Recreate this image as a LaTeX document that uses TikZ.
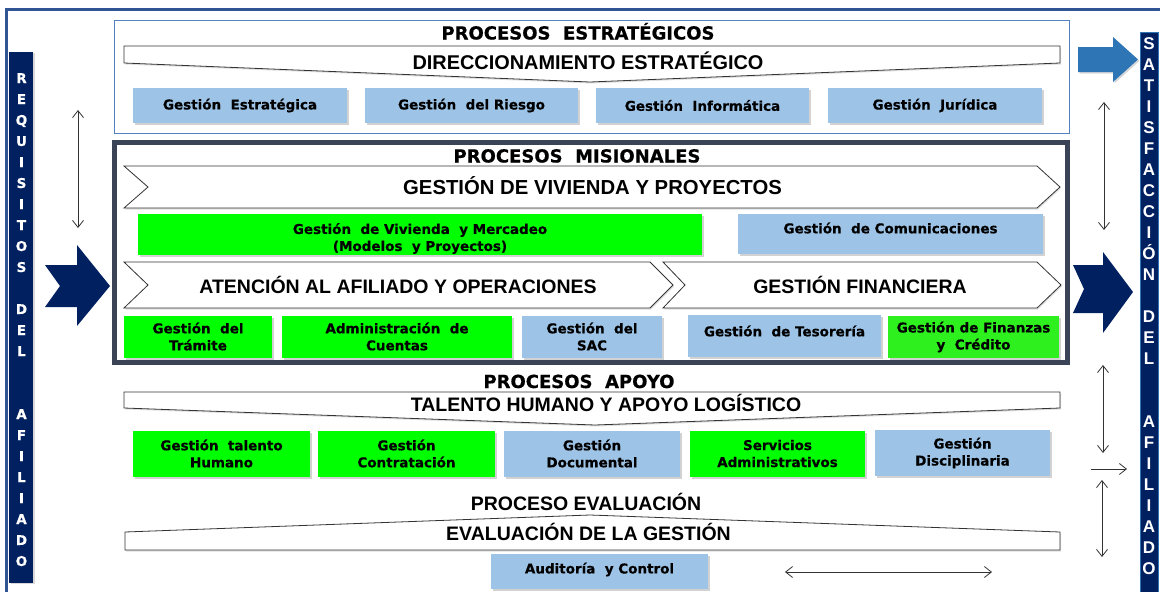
\documentclass[tikz,border=0pt]{standalone}
\usepackage{fontspec}
\setmainfont{DejaVu Sans}[BoldFeatures={FakeBold=0.5}]
\newfontfamily\lib{Liberation Sans}
\usetikzlibrary{arrows.meta,shadows}
\definecolor{lblue}{RGB}{157,195,230}
\definecolor{lgreen}{RGB}{0,255,0}
\definecolor{fgreen}{RGB}{45,240,30}
\definecolor{navy}{RGB}{0,32,96}
\definecolor{midblue}{RGB}{46,117,182}
\definecolor{frameblue}{RGB}{47,85,151}
\definecolor{slate}{RGB}{59,68,86}
\definecolor{stratblue}{RGB}{84,130,190}
\tikzset{
  box/.style={fill=lblue, inner sep=0pt, align=center,
    font=\fontsize{13.5}{17}\selectfont\bfseries,
    drop shadow={shadow xshift=1.5pt, shadow yshift=-2pt, opacity=0.35}},
  gbox/.style={box, fill=lgreen},
  boxtext/.style={inner sep=0pt, align=center, font=\fontsize{13.5}{17}\selectfont\bfseries},
  band/.style={draw=black!80, line width=0.8pt, fill=white,
    drop shadow={shadow xshift=1pt, shadow yshift=-1.5pt, opacity=0.25}},
  hdr/.style={font=\lib\fontsize{19.5}{22}\selectfont\bfseries, inner sep=0pt, anchor=base},
  ptitle/.style={font=\fontsize{18}{20}\selectfont\bfseries, inner sep=0pt, anchor=base},
  thinarrow/.style={draw=black!80, line width=0.8pt,
    arrows={Straight Barb[length=7pt,width=11pt]-Straight Barb[length=7pt,width=11pt]}},
  onearrow/.style={draw=black!80, line width=0.8pt, arrows={-Straight Barb[length=7pt,width=11pt]}},
  bigarrow/.style={fill=navy, draw=none},
  lletter/.style={text=white, font=\fontsize{13.5}{15}\selectfont\bfseries, inner sep=0pt, anchor=base},
  rletter/.style={text=white, font=\lib\fontsize{17}{19}\selectfont\bfseries, inner sep=0pt, anchor=base}
}
\begin{document}
\begin{tikzpicture}[x=1pt,y=-1pt]
\useasboundingbox (0,0) rectangle (1160,592);
\fill[white] (0,0) rectangle (1160,592);
% outer frame
\draw[frameblue, line width=3pt] (6.5,592) -- (6.5,9.5) -- (1160,9.5);
% side bars
\fill[navy, drop shadow={shadow xshift=2pt, shadow yshift=-1pt, opacity=0.3}] (9,52) rectangle (33,583);
\draw[fill=navy, draw=midblue, line width=1pt] (1140,32) rectangle (1158,593);
\foreach \l [count=\i from 0] in {R,E,Q,U,I,S,I,T,O,S,,D,E,L,,,A,F,I,L,I,A,D,O}
  \node[lletter] (L\i) at (21.5, 83+21*\i) {\l};
\foreach \l [count=\i from 0] in {S,A,T,I,S,F,A,C,C,I,Ó,N,,D,E,L,,,A,F,I,L,I,A,D,O}
  \node[rletter] (R\i) at (1149, 49+21*\i) {\l};

% strategic
\draw[stratblue, line width=1pt] (114,20.5) rectangle (1069,133);
\node[ptitle] (pe) at (578,39.5) {PROCESOS\ \ ESTRATÉGICOS};
\path[band] (124,46) -- (1060,46) -- (1060,63) -- (590,82) -- (124,63) -- cycle;
\node[hdr, font=\lib\fontsize{19.9}{22}\selectfont\bfseries] (de) at (588,69) {DIRECCIONAMIENTO ESTRATÉGICO};
\node[box, minimum width=214pt, minimum height=35pt] (ge) at (240,105.5) {Gestión\ \ Estratégica};
\node[box, minimum width=213pt, minimum height=35pt] (gr) at (471.5,105.5) {Gestión\ \ del Riesgo};
\node[box, minimum width=213pt, minimum height=35pt] (gi) at (702.5,105.5) {Gestión\ \ Informática};
\node[box, minimum width=214pt, minimum height=35pt] (gj) at (935,105.5) {Gestión\ \ Jurídica};

% misionales
\draw[slate, line width=5pt] (114.5,142.5) rectangle (1067.5,362.5);
\node[ptitle] (pm) at (577,162.5) {PROCESOS\ \ MISIONALES};
\path[band] (124,166) -- (1037,166) -- (1060,187) -- (1037,208) -- (124,208) -- (148,187) -- cycle;
\node[hdr, font=\lib\fontsize{20.3}{22}\selectfont\bfseries] (gv) at (592.5,194.5) {GESTIÓN DE VIVIENDA Y PROYECTOS};
\node[gbox, minimum width=564pt, minimum height=41pt] (vm) at (420,234.5) {};
\node[boxtext] (vmt) at (420,238.5) {Gestión\ \ de Vivienda\ \ y Mercadeo\\(Modelos\ \ y Proyectos)};
\node[box, minimum width=305pt, minimum height=40pt] (gc) at (890.5,234) {};
\node[boxtext] (gct) at (890.5,228) {Gestión\ \ de Comunicaciones};
\path[band] (124,262) -- (650,262) -- (673,285) -- (650,308) -- (124,308) -- (148,285) -- cycle;
\path[band] (663,262) -- (1037,262) -- (1061,285) -- (1037,308) -- (663,308) -- (685,285) -- cycle;
\node[hdr] (aa) at (398,293) {ATENCIÓN AL AFILIADO Y OPERACIONES};
\node[hdr] (gf) at (860,293) {GESTIÓN FINANCIERA};
\node[gbox, minimum width=148pt, minimum height=42pt] (gt) at (198,336.5) {Gestión\ \ del\\Trámite};
\node[gbox, minimum width=230pt, minimum height=42pt] (ac) at (397,336.5) {Administración\ \ de\\Cuentas};
\node[box, minimum width=140pt, minimum height=42pt] (gs) at (592,336.5) {Gestión\ \ del\\SAC};
\node[box, minimum width=193pt, minimum height=42pt] (gte) at (784.5,336) {};
\node[boxtext] (gtet) at (784.5,331) {Gestión\ \ de Tesorería};
\node[box, fill=fgreen, minimum width=171pt, minimum height=42pt] (gfc) at (973.5,337) {Gestión de Finanzas\\y\ \ Crédito};

% apoyo
\node[ptitle] (pa) at (579,388) {PROCESOS\ \ APOYO};
\path[band] (124,392) -- (1060,392) -- (1060,408) -- (595,425) -- (124,408) -- cycle;
\node[hdr] (th) at (606,411) {TALENTO HUMANO Y APOYO LOGÍSTICO};
\node[gbox, minimum width=177pt, minimum height=46pt] (gth) at (221.5,453.5) {Gestión\ \ talento\\Humano};
\node[gbox, minimum width=177pt, minimum height=46pt] (gco) at (406.5,453.5) {Gestión\\Contratación};
\node[box, minimum width=176pt, minimum height=46pt] (gd) at (592,453.5) {Gestión\\Documental};
\node[gbox, minimum width=175pt, minimum height=46pt] (sa) at (777.5,453.5) {Servicios\\Administrativos};
\node[box, minimum width=175pt, minimum height=46pt] (gdi) at (962.5,453) {Gestión\\Disciplinaria};

% evaluacion
\node[hdr] (pev) at (586,510.7) {PROCESO EVALUACIÓN};
\path[band] (125,550) -- (1060,550) -- (1060,532) -- (590,515) -- (125,532) -- cycle;
\node[hdr] (eg) at (588.5,540.7) {EVALUACIÓN DE LA GESTIÓN};
\node[box, minimum width=217pt, minimum height=35pt] (au) at (599.5,571.5) {};
\node[boxtext] (aut) at (599.5,569.5) {Auditoría\ \ y Control};

% big arrows
\path[bigarrow] (45,265) -- (77,265) -- (77,245) -- (110,286) -- (77,326) -- (77,307) -- (45,307) -- (60,286) -- cycle;
\path[bigarrow] (1073,265) -- (1103,265) -- (1103,252) -- (1133,292) -- (1103,333) -- (1103,313) -- (1073,313) -- (1084,289) -- cycle;
\path[fill=midblue, drop shadow={shadow xshift=1.5pt, shadow yshift=-1.5pt, opacity=0.3}] (1078,47) -- (1113,47) -- (1113,37) -- (1138,59.5) -- (1113,82) -- (1113,72) -- (1078,72) -- cycle;

% thin arrows
\coordinate (a1t) at (78,110); \coordinate (a1b) at (78,228);
\coordinate (a2t) at (1104,102); \coordinate (a2b) at (1104,230);
\coordinate (a3t) at (1103,365); \coordinate (a3b) at (1103,453);
\coordinate (a4l) at (1091,469); \coordinate (a4r) at (1127,469);
\coordinate (a5t) at (1102,480); \coordinate (a5b) at (1102,557);
\coordinate (a6l) at (785,572); \coordinate (a6r) at (992,572);
\draw[thinarrow] (a1t) -- (a1b);
\draw[thinarrow] (a2t) -- (a2b);
\draw[thinarrow] (a3t) -- (a3b);
\draw[onearrow] (a4l) -- (a4r);
\draw[thinarrow] (a5t) -- (a5b);
\draw[thinarrow] (a6l) -- (a6r);
\end{tikzpicture}
\end{document}
